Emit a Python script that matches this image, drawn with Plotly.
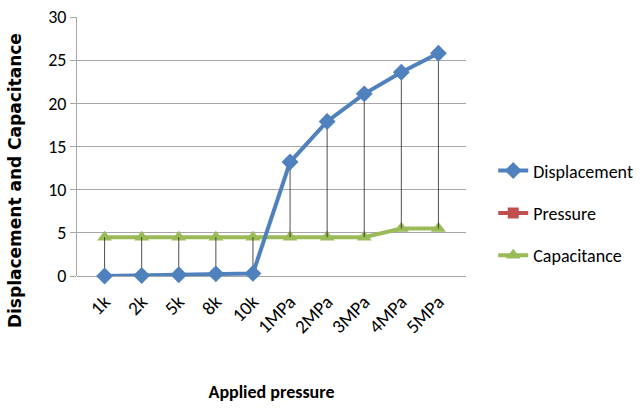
import plotly.graph_objects as go

categories = ["1k", "2k", "5k", "8k", "10k", "1MPa", "2MPa", "3MPa", "4MPa", "5MPa"]
displacement = [0.0, 0.05, 0.15, 0.25, 0.3, 13.2, 17.9, 21.1, 23.6, 25.8]
pressure = [None] * 10
capacitance = [4.5, 4.5, 4.5, 4.5, 4.5, 4.5, 4.5, 4.5, 5.5, 5.5]

FONT = "Carlito, Lato, 'Open Sans', sans-serif"

# high-low lines computed from data
hl_x, hl_y = [], []
for c, d, p, cap in zip(categories, displacement, pressure, capacitance):
    vals = [v for v in (d, p, cap) if v is not None]
    hl_x += [c, c, None]
    hl_y += [min(vals), max(vals), None]

fig = go.Figure()
fig.add_trace(go.Scatter(x=categories, y=capacitance, name="Capacitance", mode="lines+markers",
                         line=dict(color="#9BBB59", width=4),
                         marker=dict(symbol="triangle-up", size=13, color="#9BBB59"),
                         cliponaxis=False, showlegend=False))
fig.add_trace(go.Scatter(x=hl_x, y=hl_y, mode="lines", line=dict(color="#222222", width=0.8),
                         showlegend=False, hoverinfo="skip", cliponaxis=False))
fig.add_trace(go.Scatter(x=categories, y=displacement, name="Displacement", mode="lines+markers",
                         legendgroup="a",
                         line=dict(color="#4F81BD", width=4),
                         marker=dict(symbol="diamond", size=13, color="#4F81BD"),
                         cliponaxis=False))
fig.add_trace(go.Scatter(x=categories, y=pressure, name="Pressure", mode="lines+markers",
                         legendgroup="b",
                         line=dict(color="#C0504D", width=4),
                         marker=dict(symbol="square", size=11, color="#C0504D")))
fig.add_trace(go.Scatter(x=categories, y=[None] * 10, name="Capacitance", mode="lines+markers",
                         legendgroup="c",
                         line=dict(color="#9BBB59", width=4),
                         marker=dict(symbol="triangle-up", size=13, color="#9BBB59")))

fig.update_layout(
    width=643, height=408,
    margin=dict(l=77, r=177, t=17, b=132, autoexpand=False),
    paper_bgcolor="white", plot_bgcolor="white",
    font=dict(family=FONT, size=17, color="#000000"),
    legend=dict(x=1.07, y=0.242, xanchor="left", yanchor="middle",
                font=dict(size=18), tracegroupgap=16, itemwidth=30,
                bgcolor="rgba(0,0,0,0)"),
    xaxis=dict(type="category", categoryorder="array", categoryarray=categories,
               showgrid=False, showline=False, zeroline=False,
               tickangle=-45, tickfont=dict(size=19), ticklabelstandoff=10,
               title=dict(text="<b>Applied pressure</b>", font=dict(size=18), standoff=48)),
    yaxis=dict(range=[0, 30], dtick=5, showgrid=True, gridcolor="#A6A6A6", gridwidth=1,
               showline=True, linecolor="#A6A6A6", linewidth=1,
               zeroline=True, zerolinecolor="#A6A6A6", zerolinewidth=1,
               ticks="outside", ticklen=6, tickcolor="#A6A6A6",
               tickfont=dict(size=18)),
    annotations=[dict(text="<b>Displacement and Capacitance</b>", textangle=-90,
                      xref="paper", yref="paper", x=-0.159, y=0.367,
                      xanchor="center", yanchor="middle", showarrow=False,
                      font=dict(size=17, family="DejaVu Sans", color="#000000"))],
)

fig.write_html("out.html")
